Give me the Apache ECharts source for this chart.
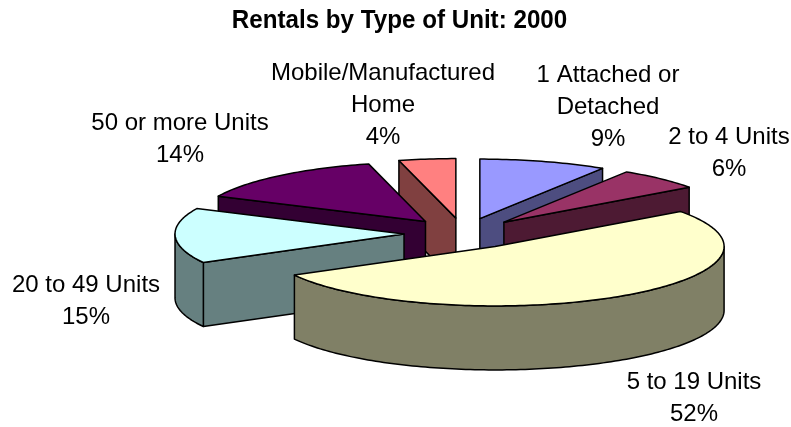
<!DOCTYPE html>
<html><head><meta charset="utf-8">
<style>html,body{margin:0;padding:0;background:#fff}#c{width:791px;height:427px}</style>
<script src="https://cdn.jsdelivr.net/npm/echarts@6/dist/echarts.min.js"></script>
</head><body><div id="c"></div>
<script>
const titleText = 'Rentals by Type of Unit: 2000';
const categories = ['1 Attached or\nDetached', '2 to 4 Units', '5 to 19 Units', '20 to 49 Units', '50 or more Units', 'Mobile/Manufactured\nHome'];
const values = [9, 6, 52, 15, 14, 4];
const colors = ['#9999FF', '#993366', '#FFFFCC', '#CCFFFF', '#660066', '#FF8080'];

// layout of the projected pie
const cx = 463.3, cy = 233.4, rx = 229, ry = 59.5, depth = 64, explode = 0.259;
const paintOrder = [2, 3, 6, 5, 4, 1];               // back to front per slice
const labelAnchors = [[608, 59], [729, 121], [694, 366], [86, 269], [180, 107], [383, 57]];
const FONT_LABEL = '24px "Liberation Sans", Arial, sans-serif';
const LINE = 32;

const total = values.reduce((a, b) => a + b, 0);
function darken(hex) {
  const n = parseInt(hex.slice(1), 16);
  const h = v => Math.round(v / 2).toString(16).padStart(2, '0');
  return '#' + h(n >> 16 & 255) + h(n >> 8 & 255) + h(n & 255);
}
function renderItem(params, api) {
  const i = params.dataIndex;
  const before = values.slice(0, i).reduce((a, b) => a + b, 0);
  const a0 = before / total * 2 * Math.PI;
  const a1 = (before + api.value(0)) / total * 2 * Math.PI;
  const mid = (a0 + a1) / 2;
  const ax = cx + explode * rx * Math.sin(mid);
  const ay = cy - explode * ry * Math.cos(mid);
  const rim = (t, dz) => [ax + rx * Math.sin(t), ay - ry * Math.cos(t) + (dz || 0)];
  const arc = (s, e, dz) => {
    const n = Math.max(2, Math.ceil(Math.abs(e - s) / 0.02));
    const out = [];
    for (let k = 0; k <= n; k++) out.push(rim(s + (e - s) * k / n, dz));
    return out;
  };
  const z2 = paintOrder[i] * 10;
  const top = colors[i], side = darken(top);
  const shape = (pts, fill, z) => ({
    type: 'polygon', silent: true, z2: z,
    shape: { points: pts },
    style: { fill: fill, stroke: '#000', lineWidth: 1.5, lineJoin: 'round' }
  });
  const kids = [];
  if (Math.sin(a0) < -1e-6) kids.push(shape([[ax, ay], rim(a0), rim(a0, depth), [ax, ay + depth]], side, z2));
  if (Math.sin(a1) > 1e-6) kids.push(shape([[ax, ay], rim(a1), rim(a1, depth), [ax, ay + depth]], side, z2));
  const ws = Math.max(a0, Math.PI / 2), we = Math.min(a1, 3 * Math.PI / 2);
  if (we > ws) kids.push(shape(arc(ws, we, 0).concat(arc(we, ws, depth)), side, z2 + 1));
  kids.push(shape([[ax, ay]].concat(arc(a0, a1, 0)), top, z2 + 2));
  const a = labelAnchors[i];
  kids.push({
    type: 'text', silent: true, z2: 200,
    x: a[0], y: a[1],
    style: {
      text: categories[i] + '\n' + api.value(0) + '%',
      font: FONT_LABEL, fill: '#000', align: 'center', verticalAlign: 'top', lineHeight: LINE
    }
  });
  return { type: 'group', children: kids };
}
const chart = echarts.init(document.getElementById('c'), null, { renderer: 'canvas' });
chart.setOption({
  animation: false,
  backgroundColor: '#fff',
  graphic: [{
    type: 'text', silent: true, x: 399.5, y: 8, scaleX: 0.93, originX: 0, originY: 0,
    style: { text: titleText, font: 'bold 26px "Liberation Sans", Arial, sans-serif', fill: '#000', align: 'center', verticalAlign: 'top' }
  }],
  series: [{
    type: 'custom', coordinateSystem: 'none', renderItem: renderItem,
    data: values.map(v => [v]), silent: true
  }]
});
</script></body></html>
